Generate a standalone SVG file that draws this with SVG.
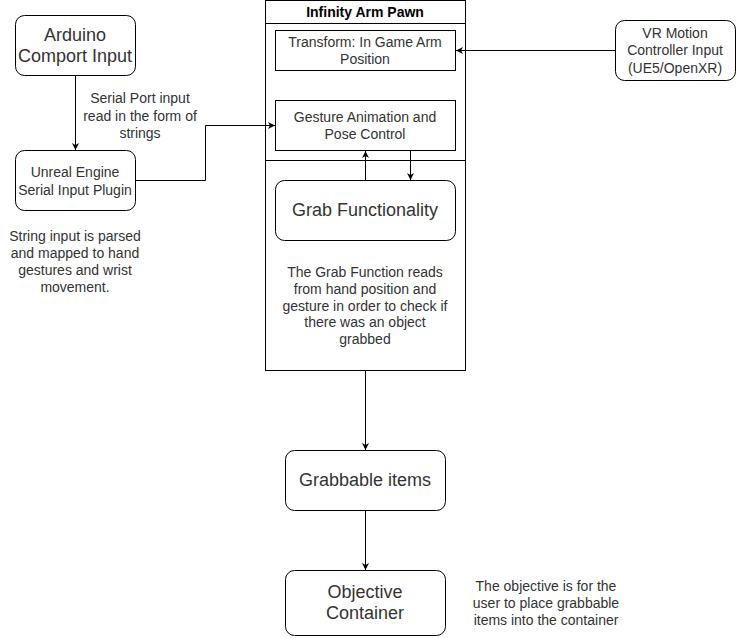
<svg xmlns="http://www.w3.org/2000/svg" width="736" height="638" viewBox="0 0 736 638">
<defs>
<marker id="arr" markerWidth="8" markerHeight="8" refX="7" refY="4" orient="auto" markerUnits="userSpaceOnUse">
<path d="M0,0.5 L7,4 L0,7.5 L2,4 Z" fill="#000"/>
</marker>
<style>
.b{fill:#fff;stroke:#000;stroke-width:1}
.t{font-family:"Liberation Sans",Arial,sans-serif;font-size:14px;fill:#333;text-anchor:middle}
.l{font-family:"Liberation Sans",Arial,sans-serif;font-size:18px;fill:#333;text-anchor:middle}
.c{fill:none;stroke:#000;stroke-width:1;marker-end:url(#arr)}
</style>
</defs>
<rect width="736" height="638" fill="#fff"/>
<g id="pawn">
<rect class="b" x="265.5" y="0.5" width="200" height="370"/>
<line x1="265.5" y1="23.5" x2="465.5" y2="23.5" stroke="#000"/>
<line x1="265.5" y1="160.5" x2="465.5" y2="160.5" stroke="#000"/>
<text class="t" x="365" y="17" font-weight="bold" style="fill:#000">Infinity Arm Pawn</text>
<text class="t" x="365" y="277">The Grab Function reads</text>
<text class="t" x="365" y="294">from hand position and</text>
<text class="t" x="365" y="311">gesture in order to check if</text>
<text class="t" x="365" y="327">there was an object</text>
<text class="t" x="365" y="344">grabbed</text>
</g>
<g id="arduino">
<rect class="b" x="15.5" y="15.5" width="120" height="60" rx="9"/>
<text class="l" x="75" y="41">Arduino</text>
<text class="l" x="75" y="62">Comport Input</text>
</g>
<g id="plugin">
<rect class="b" x="15.5" y="150.5" width="120" height="60" rx="9"/>
<text class="t" x="75" y="177">Unreal Engine</text>
<text class="t" x="75" y="195">Serial Input Plugin</text>
</g>
<g id="transform">
<rect class="b" x="275.5" y="30.5" width="180" height="40"/>
<text class="t" x="365" y="47">Transform: In Game Arm</text>
<text class="t" x="365" y="64">Position</text>
</g>
<g id="gesture">
<rect class="b" x="275.5" y="100.5" width="180" height="50"/>
<text class="t" x="365" y="122">Gesture Animation and</text>
<text class="t" x="365" y="139">Pose Control</text>
</g>
<g id="grab">
<rect class="b" x="275.5" y="180.5" width="180" height="60" rx="9"/>
<text class="l" x="365" y="216">Grab Functionality</text>
</g>
<g id="vr">
<rect class="b" x="615.5" y="20.5" width="120" height="60" rx="9"/>
<text class="t" x="675" y="38">VR Motion</text>
<text class="t" x="675" y="55">Controller Input</text>
<text class="t" x="675" y="73">(UE5/OpenXR)</text>
</g>
<g id="grabbable">
<rect class="b" x="285.5" y="450.5" width="160" height="60" rx="9"/>
<text class="l" x="365" y="486">Grabbable items</text>
</g>
<g id="objective">
<rect class="b" x="285.5" y="570.5" width="160" height="65" rx="9"/>
<text class="l" x="365" y="598">Objective</text>
<text class="l" x="365" y="619">Container</text>
</g>
<g id="notes">
<text class="t" x="140" y="103">Serial Port input</text>
<text class="t" x="140" y="121">read in the form of</text>
<text class="t" x="140" y="138">strings</text>
<text class="t" x="75" y="241">String input is parsed</text>
<text class="t" x="75" y="258">and mapped to hand</text>
<text class="t" x="75" y="275">gestures and wrist</text>
<text class="t" x="75" y="292">movement.</text>
<text class="t" x="546" y="591">The objective is for the</text>
<text class="t" x="546" y="608">user to place grabbable</text>
<text class="t" x="546" y="625">items into the container</text>
</g>
<g id="connectors">
<path class="c" d="M75.5,75.5 V150"/>
<path class="c" d="M135.5,180.5 H205.5 V125.5 H275"/>
<path class="c" d="M615.5,50.5 H456"/>
<path class="c" d="M365.5,180.5 V151"/>
<path class="c" d="M410.5,150.5 V180"/>
<path class="c" d="M365.5,370.5 V450"/>
<path class="c" d="M365.5,510.5 V570"/>
</g>
</svg>
